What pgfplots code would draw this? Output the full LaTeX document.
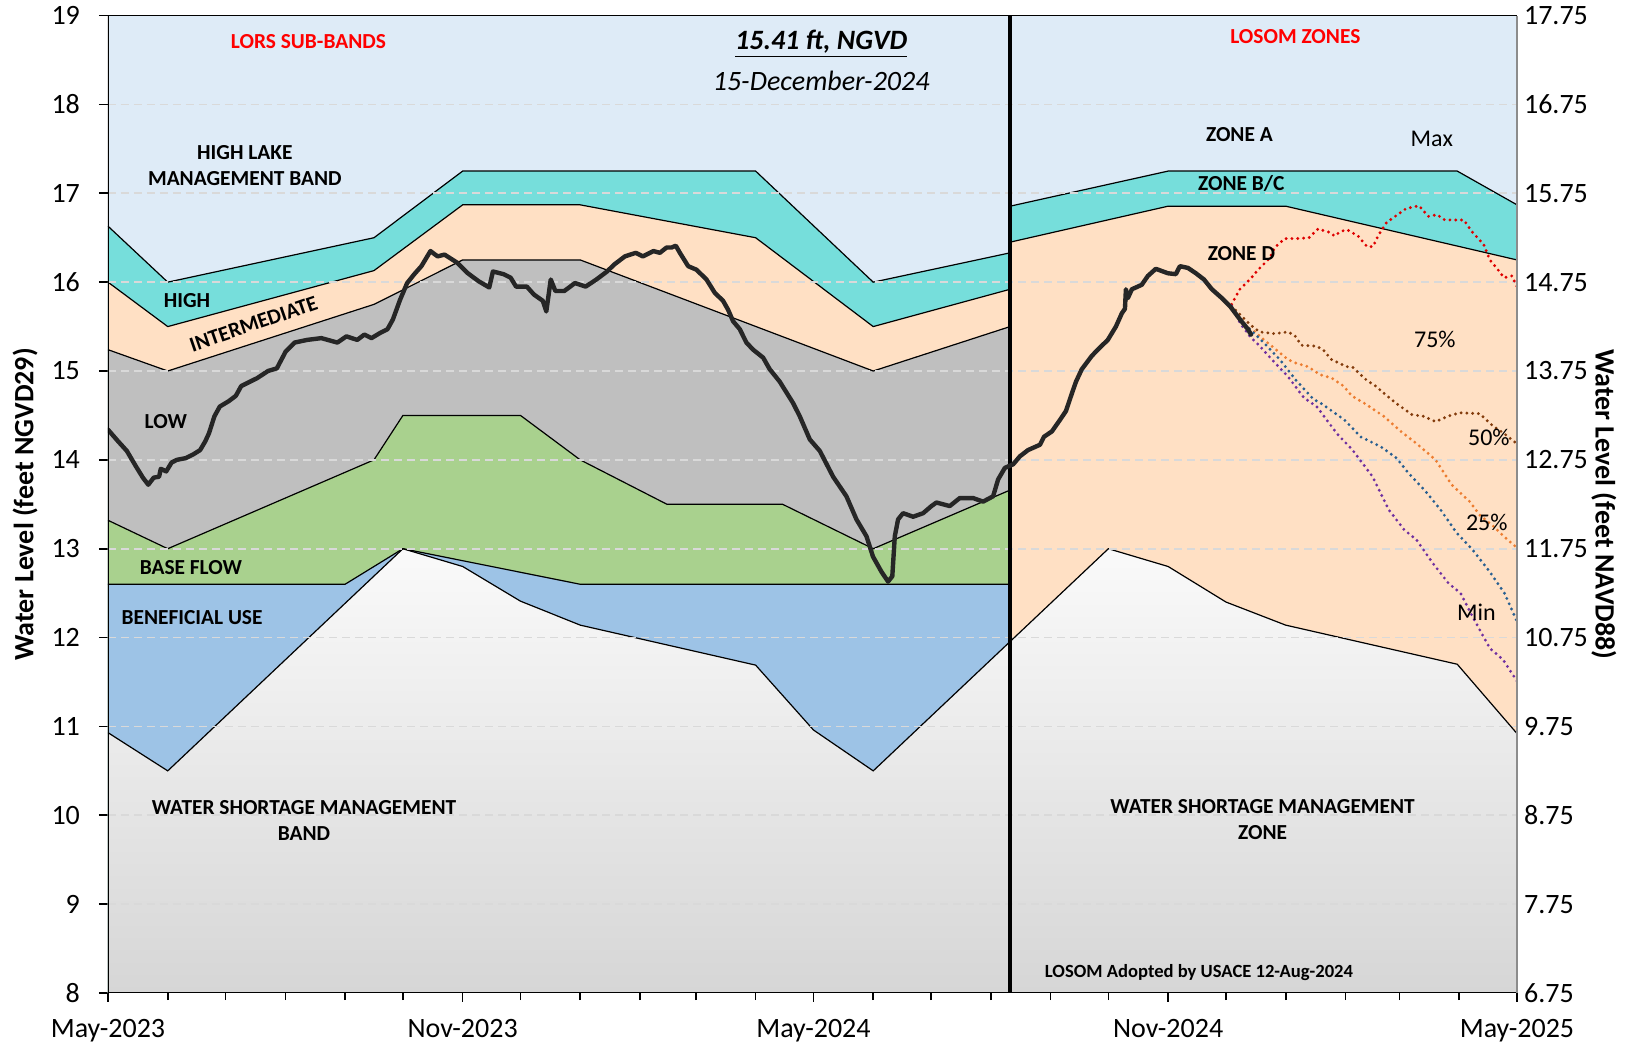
\documentclass[border=0pt]{standalone}
\usepackage{fontspec}
\setmainfont{Carlito}
\usepackage{pgfplots}
\usepackage{pgfplotstable}
\pgfplotsset{compat=1.18}

\definecolor{hlmb}{RGB}{222,235,247}
\definecolor{cyanb}{RGB}{118,222,219}
\definecolor{peach}{RGB}{255,224,196}
\definecolor{lowg}{RGB}{191,191,191}
\definecolor{basef}{RGB}{169,209,142}
\definecolor{benu}{RGB}{157,195,230}
\definecolor{wsmtop}{RGB}{250,250,250}
\definecolor{wsmbot}{RGB}{214,214,214}
\definecolor{gridc}{RGB}{217,217,217}
\definecolor{lakec}{RGB}{38,38,38}
\definecolor{pmax}{RGB}{222,0,0}
\definecolor{pbrown}{RGB}{132,60,12}
\definecolor{porange}{RGB}{237,125,49}
\definecolor{pblue}{RGB}{40,95,145}
\definecolor{ppurple}{RGB}{112,48,160}

% LORS boundaries (day from 1-May-2023, ft NGVD)
\pgfplotstableread{
x y
0 16.63
31 16.0
138 16.5
184 17.25
336 17.25
397 16.0
468 16.33
}\hightop
\pgfplotstableread{
x y
0 16.0
31 15.5
138 16.13
184 16.87
245 16.87
336 16.5
397 15.5
468 15.92
}\inttop
\pgfplotstableread{
x y
0 15.24
31 15.0
138 15.75
184 16.25
245 16.25
397 15.0
468 15.5
}\lowtop
\pgfplotstableread{
x y
0 13.32
31 13.0
138 14.0
153 14.5
214 14.5
245 14.0
290 13.5
350 13.5
397 13.0
468 13.66
}\basetop
\pgfplotstableread{
x y
0 12.6
123 12.6
153 13.0
245 12.6
468 12.6
}\butop
\pgfplotstableread{
x y
0 10.93
31 10.5
153 13.0
184 12.8
214 12.41
245 12.14
336 11.69
366 10.96
397 10.5
519 13.0
550 12.8
580 12.4
611 12.14
700 11.7
731 10.92
}\wsmtop
% LOSOM boundaries
\pgfplotstableread{
x y
468 16.855
550 17.25
700 17.25
731 16.87
}\bctop
\pgfplotstableread{
x y
468 16.45
550 16.855
611 16.855
731 16.25
}\dtop

\pgfplotstableread{
x y
0 14.34
5.2 14.21
9.8 14.10
14.4 13.93
18.1 13.80
20.9 13.72
23.7 13.80
26.5 13.81
27.4 13.90
30.2 13.87
33 13.97
35.7 14.00
40.4 14.02
44.1 14.06
47.8 14.11
50.5 14.21
52.4 14.30
55.2 14.49
58 14.60
62.6 14.66
66.3 14.72
69.1 14.83
73.7 14.88
77.4 14.92
83 15.00
87.6 15.03
92.2 15.22
96.8 15.32
103.3 15.35
110.7 15.37
119 15.32
123.7 15.39
129.3 15.35
133 15.41
136.7 15.37
141.3 15.43
145 15.47
147.8 15.58
151.5 15.80
155.2 15.99
158.9 16.09
162.6 16.18
167.3 16.35
171 16.29
174.6 16.31
181.1 16.22
186.7 16.10
192.3 16.01
197.8 15.94
199.7 16.12
205.2 16.09
208.9 16.05
211.7 15.95
217.3 15.95
221 15.86
225.6 15.79
227.4 15.67
229.7 16.03
232.1 15.90
236.7 15.90
242.3 15.99
247.8 15.95
253.4 16.03
258.9 16.12
262.7 16.20
268.2 16.29
273.8 16.33
277.5 16.29
283 16.35
286.3 16.33
289.8 16.39
292.4 16.39
294.6 16.41
296.7 16.33
301 16.18
305.3 16.14
310.5 16.03
314.8 15.88
319.1 15.79
321.7 15.69
324.3 15.56
327.8 15.47
331.2 15.32
334.7 15.24
339.9 15.15
343.3 15.02
348.5 14.88
355.4 14.64
358.9 14.49
364.1 14.23
369.3 14.10
376.2 13.81
383.1 13.59
388.3 13.33
393.5 13.14
396.9 12.91
401.3 12.74
404.7 12.63
406.9 12.69
408.2 13.14
409.9 13.33
412.5 13.40
417.7 13.36
422.9 13.40
427.2 13.48
429.8 13.52
436.7 13.48
441.9 13.57
448.8 13.57
454 13.53
459.2 13.59
461.8 13.78
465.3 13.91
469.6 13.95
473.1 14.04
477.3 14.11
483.5 14.17
485.6 14.26
489.7 14.32
493.9 14.45
497 14.55
500.1 14.75
502.2 14.88
505.2 15.02
510.4 15.17
513.5 15.24
518.7 15.35
522.9 15.50
526 15.65
527.6 15.70
528.1 15.92
529.1 15.82
531.2 15.92
536.3 15.97
539.5 16.07
543.6 16.15
549.9 16.10
554 16.09
556.1 16.18
560.3 16.16
564.4 16.10
568.6 16.03
572.7 15.92
577.9 15.82
582.1 15.73
587.3 15.58
591.4 15.47
593 15.41
}\lake

\pgfplotstableread{
x y
582.9 15.75
587.2 15.92
592.4 16.03
596.7 16.14
602.7 16.27
605.3 16.39
610.5 16.49
616.6 16.49
623.1 16.50
627.8 16.60
633.8 16.56
636.4 16.52
639.4 16.57
642.8 16.59
648.5 16.52
653.2 16.40
656.3 16.40
659.4 16.54
663.3 16.67
668.4 16.75
673.6 16.83
680.2 16.86
685 16.74
689.5 16.76
693.5 16.70
698.2 16.70
703.4 16.70
707.6 16.57
713.8 16.42
716.9 16.25
721.1 16.14
724.2 16.05
728.3 16.07
731 15.95
}\pmaxt
\pgfplotstableread{
x y
582.9 15.73
588.9 15.60
593.2 15.51
597.5 15.44
605.3 15.42
612.2 15.44
615.7 15.40
619.1 15.29
626.9 15.28
630.4 15.24
634.7 15.13
642.5 15.05
645.9 15.04
652.8 14.90
657.7 14.83
661.9 14.75
668.1 14.64
676.4 14.51
682.6 14.49
688.8 14.43
695 14.49
701.3 14.53
711.6 14.52
718.6 14.38
724.1 14.30
731 14.18
}\pbrownt
\pgfplotstableread{
x y
582.9 15.73
589.4 15.52
595.6 15.43
599.8 15.35
606 15.24
612.1 15.13
616.2 15.09
622.5 15.05
628.7 14.96
634.9 14.92
641.1 14.83
645.3 14.72
651.6 14.64
661.9 14.49
670.2 14.33
678.5 14.19
688.8 14.00
697.1 13.72
706.5 13.53
711.6 13.38
718.9 13.25
724.1 13.14
731 13.01
}\porangt
\pgfplotstableread{
x y
582.9 15.73
587.3 15.58
592.4 15.47
599.6 15.32
607.9 15.13
616.2 14.90
625.5 14.68
629.1 14.64
641.5 14.45
649.8 14.26
660.2 14.15
668.5 14.02
674.7 13.85
683 13.66
691.3 13.44
699.6 13.18
707.9 12.99
716.2 12.76
724.5 12.50
731 12.18
}\pbluet
\pgfplotstableread{
x y
582.9 15.73
587.3 15.54
592.4 15.39
597.6 15.28
603.8 15.13
612.1 14.94
620.4 14.70
627.1 14.60
637.4 14.30
645.7 14.11
656.1 13.81
664.4 13.44
672.6 13.21
678.9 13.10
687.2 12.84
695.5 12.61
701.7 12.50
708.3 12.22
716.9 11.88
723.8 11.75
731 11.51
}\ppurplet

\newcommand\lbl{\fontsize{10.7}{13}\selectfont\bfseries}
\tikzset{proj/.style={line width=1.6pt, line cap=round, dash pattern=on 0pt off 2.9pt}}

\begin{document}
\begin{tikzpicture}
\useasboundingbox (-54pt,-27.5pt) rectangle (759.5pt,496.5pt);
\begin{axis}[
  at={(0,0)}, anchor=south west,
  width=704.5pt, height=488.7pt, scale only axis,
  xmin=0, xmax=731, ymin=8, ymax=19,
  axis background/.style={fill=hlmb},
  axis line style={draw=none},
  xtick={0,184,366,550,731},
  xticklabels={May-2023,Nov-2023,May-2024,Nov-2024,May-2025},
  minor xtick={31,61,92,123,153,214,245,276,305,336,397,427,458,489,519,580,611,642,670,701},
  ytick={8,9,...,19},
  xtick pos=left, ytick pos=left,
  tick align=outside,
  major tick length=4.5pt, minor tick length=3.6pt,
  tick style={black, line width=0.8pt},
  ticklabel style={font=\fontsize{14}{16}\selectfont},
  xticklabel style={yshift=-5pt},
  yticklabel style={xshift=-6pt},
  /pgf/number format/assume math mode=true,
  ylabel={Water Level (feet NGVD29)},
  ylabel style={font=\fontsize{14}{16}\selectfont\bfseries, at={(axis description cs:-0.0589,0.5)}, anchor=center},
  clip=true,
]
% LORS bands (left)
\addplot[fill=cyanb, draw=none] table {\hightop} -- (axis cs:468,8) -- (axis cs:0,8) -- cycle;
\addplot[fill=peach, draw=none] table {\inttop} -- (axis cs:468,8) -- (axis cs:0,8) -- cycle;
\addplot[fill=lowg, draw=none] table {\lowtop} -- (axis cs:468,8) -- (axis cs:0,8) -- cycle;
\addplot[fill=basef, draw=none] table {\basetop} -- (axis cs:468,8) -- (axis cs:0,8) -- cycle;
\addplot[fill=benu, draw=none] table {\butop} -- (axis cs:468,8) -- (axis cs:0,8) -- cycle;
% LOSOM zones (right)
\addplot[fill=cyanb, draw=none] table {\bctop} -- (axis cs:731,8) -- (axis cs:468,8) -- cycle;
\addplot[fill=peach, draw=none] table {\dtop} -- (axis cs:731,8) -- (axis cs:468,8) -- cycle;
% water shortage band / zone
\addplot[draw=none, top color=wsmtop, bottom color=wsmbot] table {\wsmtop} -- (axis cs:731,8) -- (axis cs:0,8) -- cycle;
% boundary lines
\addplot[black, line width=0.6pt] table {\hightop};
\addplot[black, line width=0.6pt] table {\inttop};
\addplot[black, line width=0.6pt] table {\lowtop};
\addplot[black, line width=0.6pt] table {\basetop};
\addplot[black, line width=0.6pt] table {\butop};
\addplot[black, line width=0.6pt] table {\bctop};
\addplot[black, line width=0.6pt] table {\dtop};
\addplot[black, line width=0.6pt] table {\wsmtop};
% grid
\pgfplotsinvokeforeach{9,10,...,18}{
  \draw[gridc, line width=0.8pt, dash pattern=on 4pt off 2.5pt] (axis cs:0,#1) -- (axis cs:731,#1);
}
% divider
\addplot[black, line width=1.6pt] coordinates {(468,8) (468,19)};
% projections
\addplot[pmax, proj] table {\pmaxt};
\addplot[pbrown, proj] table {\pbrownt};
\addplot[porange, proj] table {\porangt};
\addplot[pblue, proj] table {\pbluet};
\addplot[ppurple, proj] table {\ppurplet};
% lake stage
\addplot[lakec, line width=2.2pt, line join=round, line cap=round] table {\lake};
% texts
\node[text=red, font=\lbl] at (axis cs:104,18.71) {LORS SUB-BANDS};
\node[font=\fontsize{14}{16}\selectfont\bfseries\itshape] at (axis cs:370,18.68) {\underline{15.41 ft, NGVD}};
\node[font=\fontsize{14}{16}\selectfont\itshape] at (axis cs:370,18.27) {15-December-2024};
\node[font=\lbl, align=center] at (axis cs:71,17.31) {HIGH LAKE\\MANAGEMENT BAND};
\node[font=\lbl] at (axis cs:41,15.79) {HIGH};
\node[font=\lbl, rotate=19] at (axis cs:75.5,15.53) {INTERMEDIATE};
\node[font=\lbl] at (axis cs:30,14.43) {LOW};
\node[font=\lbl] at (axis cs:43,12.79) {BASE FLOW};
\node[font=\lbl] at (axis cs:43.6,12.22) {BENEFICIAL USE};
\node[font=\lbl, align=center] at (axis cs:101.7,9.94) {WATER SHORTAGE MANAGEMENT\\BAND};
\node[text=red, font=\lbl] at (axis cs:616,18.76) {LOSOM ZONES};
\node[font=\lbl] at (axis cs:587,17.66) {ZONE A};
\node[font=\lbl] at (axis cs:588,17.11) {ZONE B/C};
\node[font=\lbl] at (axis cs:588,16.32) {ZONE D};
\node[font=\fontsize{12}{14}\selectfont] at (axis cs:686.8,17.61) {Max};
\node[font=\fontsize{12}{14}\selectfont] at (axis cs:688.4,15.36) {75\%};
\node[font=\fontsize{12}{14}\selectfont] at (axis cs:716.4,14.25) {50\%};
\node[font=\fontsize{12}{14}\selectfont] at (axis cs:715.3,13.30) {25\%};
\node[font=\fontsize{12}{14}\selectfont] at (axis cs:710,12.28) {Min};
\node[font=\lbl, align=center] at (axis cs:599,9.95) {WATER SHORTAGE MANAGEMENT\\ZONE};
\node[font=\fontsize{9.3}{11}\selectfont\bfseries] at (axis cs:566,8.23) {LOSOM Adopted by USACE 12-Aug-2024};
% borders
\draw[black, line width=0.9pt] (rel axis cs:0,1) -- (rel axis cs:1,1);
\draw[black, line width=1.1pt] (rel axis cs:0,0) -- (rel axis cs:0,1);
\draw[black, line width=1.3pt] (rel axis cs:0,0) -- (rel axis cs:1,0);
\end{axis}
\begin{axis}[
  at={(0,0)}, anchor=south west,
  width=704.5pt, height=488.7pt, scale only axis,
  xmin=0, xmax=731, ymin=6.75, ymax=17.75,
  axis x line=none,
  axis y line*=right,
  axis line style={draw=black!45, line width=0.8pt},
  ytick={6.75,7.75,8.75,9.75,10.75,11.75,12.75,13.75,14.75,15.75,16.75,17.75},
  major tick length=0pt,
  ticklabel style={font=\fontsize{14}{16}\selectfont},
  yticklabel style={/pgf/number format/.cd, fixed, fixed zerofill, precision=2},
  /pgf/number format/assume math mode=true,
  ylabel={Water Level (feet NAVD88)},
  ylabel style={font=\fontsize{14}{16}\selectfont\bfseries, at={(axis description cs:1.0617,0.5)}, anchor=center, rotate=180},
]
\addplot[draw=none] coordinates {(0,7) (731,7)};
\end{axis}
\end{tikzpicture}
\end{document}
